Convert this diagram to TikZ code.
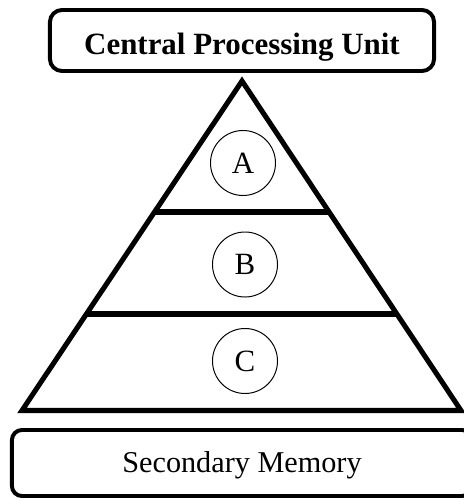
\documentclass[tikz,border=0pt]{standalone}
\usepackage{fontspec}
\setmainfont{Liberation Serif}
\usepackage{tikz}

\tikzset{
  unitbox/.style={draw, line width=2.8pt, inner sep=0pt, text depth=0pt},
  levelnode/.style={draw, circle, line width=0.7pt, minimum size=1.625cm, inner sep=0pt,
    font=\fontsize{22}{24}\selectfont},
  thickline/.style={line width=3.6pt},
}

\begin{document}
\begin{tikzpicture}[x=0.025cm, y=-0.025cm]
\useasboundingbox (0,0) rectangle (463,500);
% top and bottom boxes
\node[unitbox, rounded corners=0.3cm, minimum width=9.6cm, minimum height=1.525cm,
  text height=20pt, font=\bfseries\fontsize{22}{24}\selectfont] (cpu) at (242,40.5) {Central Processing Unit};
\node[unitbox, rounded corners=0.25cm, minimum width=11.5cm, minimum height=1.65cm,
  text height=14pt, font=\fontsize{21.5}{24}\selectfont] (mem) at (242,463) {Secondary Memory};
% pyramid
\coordinate (top) at (242,81);
\coordinate (bl) at (22,410.5);
\coordinate (br) at (461,410.5);
\draw[thickline] (top) -- (bl) -- (br) -- cycle;
% levels
\coordinate (l1) at (154.5,212);
\coordinate (r1) at (329.1,212);
\coordinate (l2) at (86.4,314);
\coordinate (r2) at (396.9,314);
\draw[thickline] (l1) -- (r1);
\draw[thickline] (l2) -- (r2);
\node[levelnode] (a) at (243,163) {A};
\node[levelnode] (b) at (245,264.5) {B};
\node[levelnode] (c) at (245,361) {C};
\end{tikzpicture}
\end{document}
